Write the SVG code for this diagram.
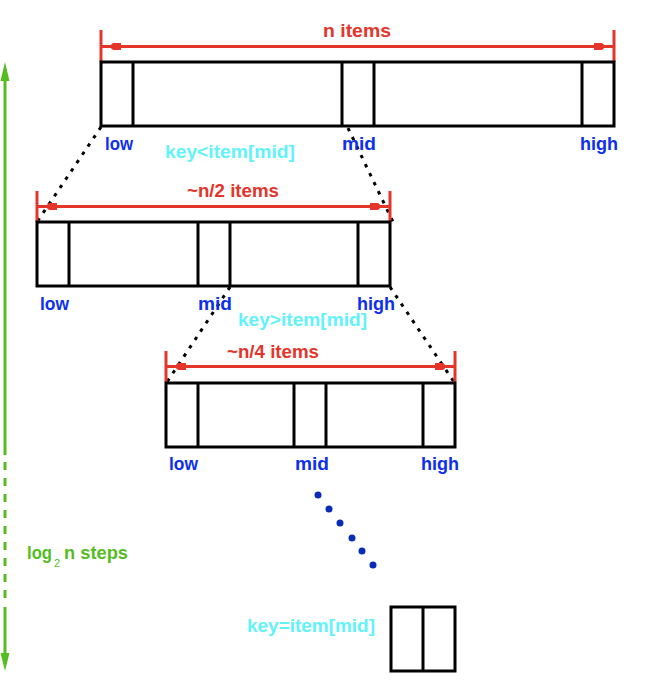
<svg xmlns="http://www.w3.org/2000/svg" width="646" height="680" viewBox="0 0 646 680">
  <style>
    .arr { fill: #ffffff; stroke: #000000; stroke-width: 3; }
    .div { stroke: #000000; stroke-width: 3; }
    .t { font-family: "Liberation Sans", Arial, sans-serif; font-weight: bold; font-size: 18px; }
    .red { fill: #e5352b; }
    .blue { fill: #0c2ff0; }
    .cyan { fill: #62f2fb; }
    .green { fill: #55bd1f; }
    .dim { stroke: #e5352b; stroke-width: 3; fill: none; }
    .tick { stroke: #e5352b; stroke-width: 3; }
    .dots { stroke: #000000; stroke-width: 3; stroke-dasharray: 3.5 6.5; fill: none; }
    .g { stroke: #55bd1f; stroke-width: 3; fill: none; }
  </style>
  <defs>
    <marker id="redhead" markerUnits="userSpaceOnUse" markerWidth="22" markerHeight="8" viewBox="0 0 22 8" refX="20" refY="4" orient="auto-start-reverse">
      <path d="M0,0.5 L8,0.5 L12,4 L8,7.5 L0,7.5 z" fill="#e5352b"/>
    </marker>
  </defs>
  <rect width="646" height="680" fill="#ffffff"/>

  <g id="connectors">
    <!-- dotted projection lines -->
    <line class="dots" x1="101" y1="127" x2="37" y2="222"/>
    <line class="dots" x1="348" y1="128" x2="394" y2="224"/>
    <line class="dots" x1="230" y1="287" x2="167" y2="382"/>
    <line class="dots" x1="390" y1="287" x2="454" y2="382"/>
    <!-- dimension lines -->
    <line class="tick" x1="101" y1="30" x2="101" y2="62"/>
    <line class="tick" x1="614" y1="30" x2="614" y2="62"/>
    <line class="dim" x1="101" y1="46.5" x2="614" y2="46.5" marker-start="url(#redhead)" marker-end="url(#redhead)"/>
    <line class="tick" x1="37" y1="191" x2="37" y2="222"/>
    <line class="tick" x1="390" y1="191" x2="390" y2="222"/>
    <line class="dim" x1="37" y1="206.5" x2="390" y2="206.5" marker-start="url(#redhead)" marker-end="url(#redhead)"/>
    <line class="tick" x1="166" y1="351" x2="166" y2="382"/>
    <line class="tick" x1="455" y1="351" x2="455" y2="382"/>
    <line class="dim" x1="166" y1="366.5" x2="455" y2="366.5" marker-start="url(#redhead)" marker-end="url(#redhead)"/>
    <!-- blue ellipsis dots -->
    <g fill="#0a2ab8">
      <circle cx="318" cy="495" r="3.5"/>
      <circle cx="329" cy="509" r="3.5"/>
      <circle cx="340" cy="523" r="3.5"/>
      <circle cx="352" cy="538" r="3.5"/>
      <circle cx="362" cy="551" r="3.5"/>
      <circle cx="373" cy="565" r="3.5"/>
    </g>
    <!-- green steps arrow -->
    <line class="g" x1="5" y1="78" x2="5" y2="455"/>
    <line class="g" x1="5" y1="462" x2="5" y2="602" stroke-dasharray="8 8"/>
    <line class="g" x1="5" y1="607" x2="5" y2="656"/>
    <polygon points="5,62 9.5,81 0.5,81" fill="#55bd1f"/>
    <polygon points="5,671 9.5,653 0.5,653" fill="#55bd1f"/>
  </g>

  <g id="array-n">
    <rect class="arr" x="101" y="62" width="513" height="64"/>
    <line class="div" x1="133" y1="62" x2="133" y2="126"/>
    <line class="div" x1="342" y1="62" x2="342" y2="126"/>
    <line class="div" x1="374" y1="62" x2="374" y2="126"/>
    <line class="div" x1="582" y1="62" x2="582" y2="126"/>
  </g>
  <g id="array-n2">
    <rect class="arr" x="37" y="222" width="353" height="64"/>
    <line class="div" x1="69" y1="222" x2="69" y2="286"/>
    <line class="div" x1="198" y1="222" x2="198" y2="286"/>
    <line class="div" x1="230" y1="222" x2="230" y2="286"/>
    <line class="div" x1="358" y1="222" x2="358" y2="286"/>
  </g>
  <g id="array-n4">
    <rect class="arr" x="166" y="383" width="289" height="64"/>
    <line class="div" x1="198" y1="383" x2="198" y2="447"/>
    <line class="div" x1="294" y1="383" x2="294" y2="447"/>
    <line class="div" x1="326" y1="383" x2="326" y2="447"/>
    <line class="div" x1="423" y1="383" x2="423" y2="447"/>
  </g>
  <g id="array-final">
    <rect class="arr" x="391" y="607" width="64" height="64"/>
    <line class="div" x1="423" y1="607" x2="423" y2="671"/>
  </g>

  <g id="labels-n">
    <text class="t red" x="323" y="37" textLength="68" lengthAdjust="spacingAndGlyphs">n  items</text>
    <text class="t blue" x="105" y="150" textLength="28" lengthAdjust="spacingAndGlyphs">low</text>
    <text class="t blue" x="342" y="150" textLength="34" lengthAdjust="spacingAndGlyphs">mid</text>
    <text class="t blue" x="580" y="150" textLength="38" lengthAdjust="spacingAndGlyphs">high</text>
    <text class="t cyan" x="165" y="158" textLength="130" lengthAdjust="spacingAndGlyphs">key&lt;item[mid]</text>
  </g>
  <g id="labels-n2">
    <text class="t red" x="187" y="197" textLength="92" lengthAdjust="spacingAndGlyphs">~n/2 items</text>
    <text class="t blue" x="40" y="310" textLength="29" lengthAdjust="spacingAndGlyphs">low</text>
    <text class="t blue" x="198" y="310" textLength="34" lengthAdjust="spacingAndGlyphs">mid</text>
    <text class="t blue" x="357" y="310" textLength="38" lengthAdjust="spacingAndGlyphs">high</text>
    <text class="t cyan" x="238" y="326" textLength="129" lengthAdjust="spacingAndGlyphs">key&gt;item[mid]</text>
  </g>
  <g id="labels-n4">
    <text class="t red" x="227" y="358" textLength="92" lengthAdjust="spacingAndGlyphs">~n/4 items</text>
    <text class="t blue" x="169" y="470" textLength="29" lengthAdjust="spacingAndGlyphs">low</text>
    <text class="t blue" x="295" y="470" textLength="34" lengthAdjust="spacingAndGlyphs">mid</text>
    <text class="t blue" x="421" y="470" textLength="38" lengthAdjust="spacingAndGlyphs">high</text>
  </g>
  <g id="labels-final">
    <text class="t cyan" x="247" y="632" textLength="128" lengthAdjust="spacingAndGlyphs">key=item[mid]</text>
  </g>
  <g id="label-steps">
    <text class="t green" x="27" y="559"><tspan x="27" textLength="25" lengthAdjust="spacingAndGlyphs">log</tspan><tspan x="54" y="567" font-size="11" font-weight="normal">2</tspan><tspan x="64" y="559" textLength="64" lengthAdjust="spacingAndGlyphs">n steps</tspan></text>
  </g>
</svg>
